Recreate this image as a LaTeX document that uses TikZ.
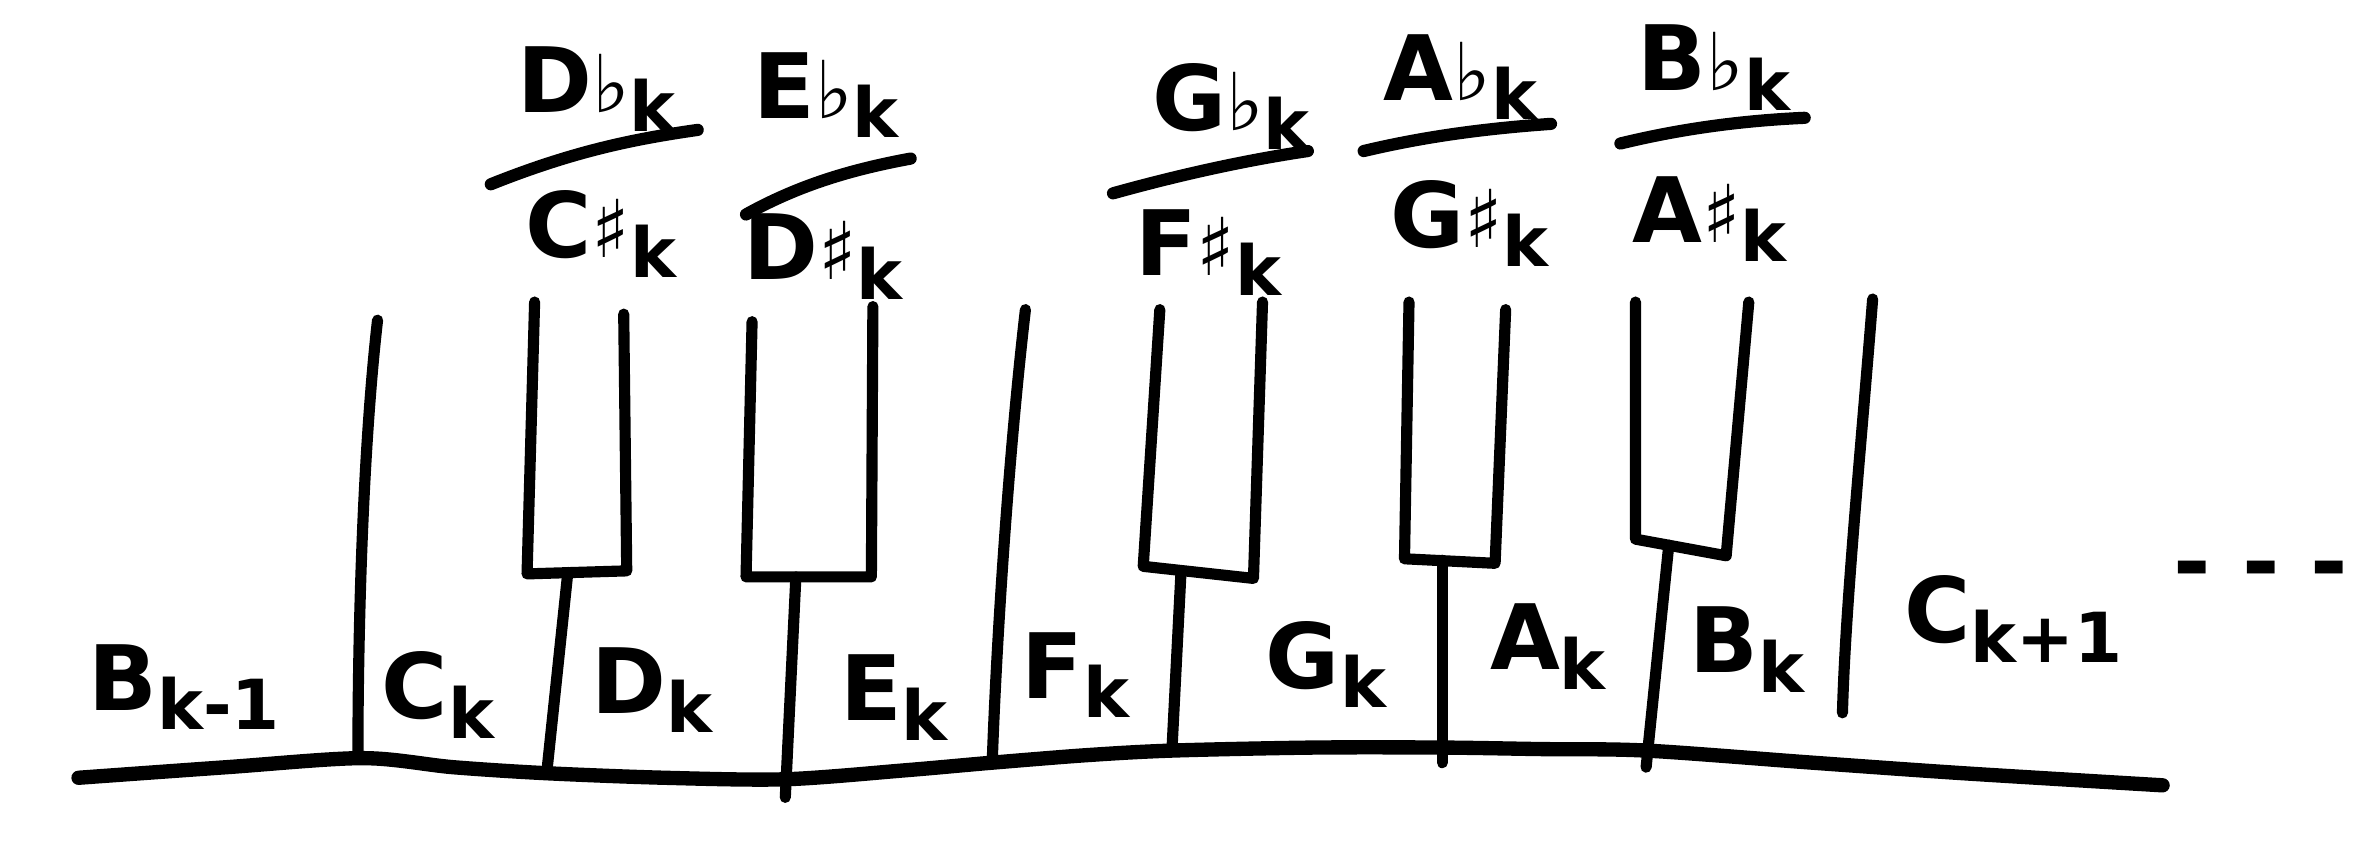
\documentclass[tikz,border=0pt]{standalone}
\usepackage{fontspec}
\setmainfont{DejaVu Sans}
\newfontfamily\symf{DejaVu Sans}
\newcommand{\lowtxt}[1]{\raisebox{-0.4ex}{\fontsize{13}{13}\selectfont #1}}
\newcommand{\flt}{{\symf\mdseries\fontsize{15}{15}\selectfont ♭}}
\newcommand{\shp}{{\symf\mdseries\fontsize{15}{15}\selectfont ♯}}
\begin{document}
\begin{tikzpicture}[x=0.01cm,y=-0.01cm, line cap=round, line join=round,
  ink/.style={line width=2.1pt},
  base/.style={line width=2.7pt},
  fracline/.style={line width=2.3pt},
  lab/.style={font=\fontsize{17}{19}\selectfont\bfseries, inner sep=0pt},
  toplab/.style={lab, anchor=south}]
\useasboundingbox (0,0) rectangle (1568,572);

% base line
\draw[base] plot[smooth] coordinates {(52,515) (150,508) (240,502) (300,508) (362,512) (440,515) (520,516) (600,510) (657,505) (720,500) (776,497) (870,495) (955,495) (1020,496) (1090,497) (1200,505) (1300,512) (1432,520)};

% white key dividers (no black key)
\draw[ink] (250,212) .. controls (240,300) and (237,420) .. (237,502);
\draw[ink] (679,205) .. controls (668,300) and (660,420) .. (657,505);
\draw[ink] (1240,198) .. controls (1232,300) and (1222,400) .. (1220,472);

% black keys
\draw[ink] (354,200) -- (349,380) -- (415,378) -- (413,208);
\coordinate (cs) at (376,379);
\draw[ink] (cs) -- (362,512);

\draw[ink] (498,213) -- (494,382) -- (577,382) -- (578,203);
\coordinate (ds) at (527,382);
\draw[ink] (ds) -- (520,528);

\draw[ink] (768,205) -- (757,375) -- (830,383) -- (836,200);
\coordinate (fs) at (782,379);
\draw[ink] (fs) -- (776,497);

\draw[ink] (933,200) -- (930,370) -- (990,373) -- (997,205);
\coordinate (gs) at (955,371);
\draw[ink] (gs) -- (955,505);

\draw[ink] (1083,200) -- (1083,357) -- (1143,368) -- (1158,200);
\coordinate (as) at (1105,361);
\draw[ink] (as) -- (1090,508);

% white key labels
\node[lab] (bkm) at (122,455) {B\lowtxt{k-1}};
\node[lab] (ck) at (290,460) {C\lowtxt{k}};
\node[lab] (dk) at (432,457) {D\lowtxt{k}};
\node[lab] (ek) at (592,462) {E\lowtxt{k}};
\node[lab] (fk) at (712,447) {F\lowtxt{k}};
\node[lab] (gk) at (878,440) {G\lowtxt{k}};
\node[lab] (ak) at (1025,428) {A\lowtxt{k}};
\node[lab] (bk) at (1157,430) {B\lowtxt{k}};
\node[lab] (ck1) at (1333,410) {C\lowtxt{k+1}};
\node[lab] (dots) at (1497,382) {- - -};

% flat labels
\node[toplab] (dbk) at (395,88) {D\flt\lowtxt{k}};
\node[toplab] (ebk) at (547,92) {E\flt\lowtxt{k}};
\node[toplab] (gbk) at (815,100) {G\flt\lowtxt{k}};
\node[toplab] (abk) at (967,80) {A\flt\lowtxt{k}};
\node[toplab] (bbk) at (1135,74) {B\flt\lowtxt{k}};

% fraction lines
\draw[fracline] (325,122) .. controls (380,100) and (420,92) .. (462,86);
\draw[fracline] (494,142) .. controls (530,122) and (565,112) .. (603,105);
\draw[fracline] (737,128) .. controls (780,116) and (825,106) .. (866,100);
\draw[fracline] (903,100) .. controls (945,90) and (985,85) .. (1027,82);
\draw[fracline] (1073,95) .. controls (1110,86) and (1150,80) .. (1195,78);

% sharp labels
\node[lab] (csk) at (398,155) {C\shp\lowtxt{k}};
\node[lab] (dsk) at (545,170) {D\shp\lowtxt{k}};
\node[lab] (fsk) at (800,167) {F\shp\lowtxt{k}};
\node[lab] (gsk) at (973,148) {G\shp\lowtxt{k}};
\node[lab] (ask) at (1132,145) {A\shp\lowtxt{k}};
\end{tikzpicture}
\end{document}
